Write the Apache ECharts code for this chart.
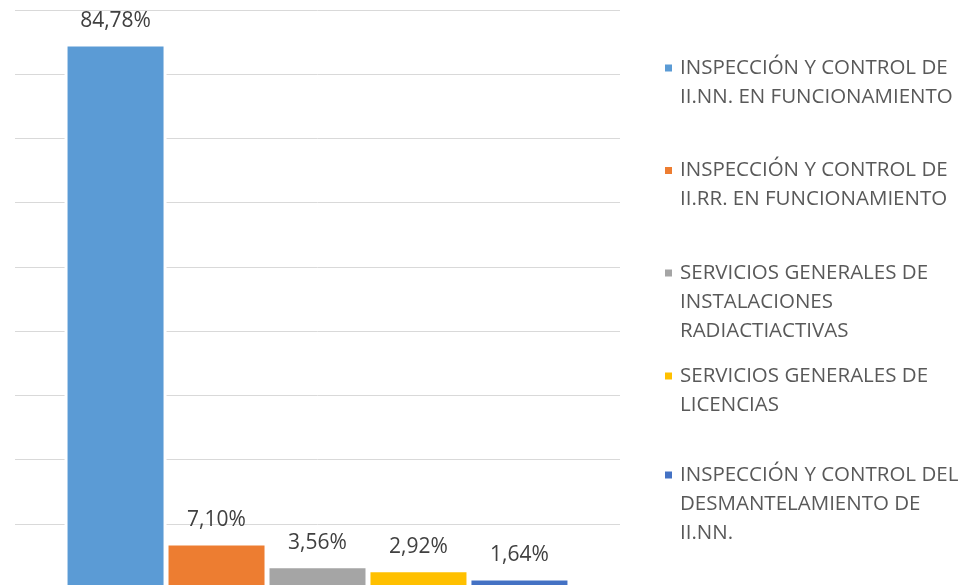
<!DOCTYPE html>
<html>
<head>
<meta charset="utf-8">
<script src="https://cdn.jsdelivr.net/npm/echarts@6/dist/echarts.min.js"></script>
<style>
  html, body { margin: 0; padding: 0; background: #fff; }
  #chart { width: 962px; height: 588px; }
</style>
</head>
<body>
<div id="chart"></div>
<script>
const categories = ['Total'];
const seriesNames = [
  'INSPECCIÓN Y CONTROL DE II.NN. EN FUNCIONAMIENTO',
  'INSPECCIÓN Y CONTROL DE II.RR. EN FUNCIONAMIENTO',
  'SERVICIOS GENERALES DE INSTALACIONES RADIACTIACTIVAS',
  'SERVICIOS GENERALES DE LICENCIAS',
  'INSPECCIÓN Y CONTROL DEL DESMANTELAMIENTO DE II.NN.'
];
const seriesValues = [84.78, 7.10, 3.56, 2.92, 1.64];
const legendLines = [
  ['INSPECCIÓN Y CONTROL DE', 'II.NN. EN FUNCIONAMIENTO'],
  ['INSPECCIÓN Y CONTROL DE', 'II.RR. EN FUNCIONAMIENTO'],
  ['SERVICIOS GENERALES DE', 'INSTALACIONES', 'RADIACTIACTIVAS'],
  ['SERVICIOS GENERALES DE', 'LICENCIAS'],
  ['INSPECCIÓN Y CONTROL DEL', 'DESMANTELAMIENTO DE', 'II.NN.']
];
const yTicks = { min: 0, max: 90, interval: 10 };

const colors = ['#5B9BD5', '#ED7D31', '#A5A5A5', '#FFC000', '#4472C4'];
const font = 'Open Sans';
const lineH = 29;
// centro de la primera línea de cada entrada de la leyenda
const legendFirstLine = [68, 170.5, 273, 376, 475];

const chart = echarts.init(document.getElementById('chart'));

// el icono de la leyenda se centra en el bloque de texto: se añaden líneas vacías arriba
// para que quede alineado con la primera línea
const legends = seriesNames.map((name, i) => {
  const lines = legendLines[i];
  const pad = lines.length - 1;
  return {
    orient: 'vertical',
    left: 663,
    top: legendFirstLine[i] - (pad + 0.5) * lineH,
    padding: 0,
    itemWidth: 9,
    itemHeight: 9,
    icon: 'rect',
    data: [name],
    selectedMode: false,
    formatter: () => '\n'.repeat(pad) + lines.join('\n'),
    textStyle: {
      fontFamily: font,
      fontSize: 20.5,
      color: '#595959',
      lineHeight: lineH,
      padding: [0, 0, 0, 2]
    }
  };
});

const option = {
  animation: false,
  backgroundColor: '#fff',
  textStyle: { fontFamily: font },
  legend: legends,
  grid: { left: 15, right: 342, top: 10, bottom: -1, containLabel: false },
  xAxis: {
    type: 'category',
    data: categories,
    axisLine: { show: false },
    axisTick: { show: false },
    axisLabel: { show: false }
  },
  yAxis: {
    type: 'value',
    min: yTicks.min,
    max: yTicks.max,
    interval: yTicks.interval,
    axisLine: { show: false },
    axisTick: { show: false },
    axisLabel: { show: false },
    splitLine: { lineStyle: { color: '#D9D9D9', width: 1 } }
  },
  series: seriesNames.map((name, i) => ({
    type: 'bar',
    name: name,
    data: [seriesValues[i]],
    barWidth: 102,
    barGap: '-1%',
    itemStyle: { color: colors[i], borderColor: '#fff', borderWidth: 3 },
    label: {
      show: true,
      position: 'top',
      distance: 12,
      fontFamily: font,
      fontSize: 21,
      color: '#404040',
      formatter: p => p.value.toFixed(2).replace('.', ',') + '%'
    }
  }))
};

chart.setOption(option);
</script>
</body>
</html>
